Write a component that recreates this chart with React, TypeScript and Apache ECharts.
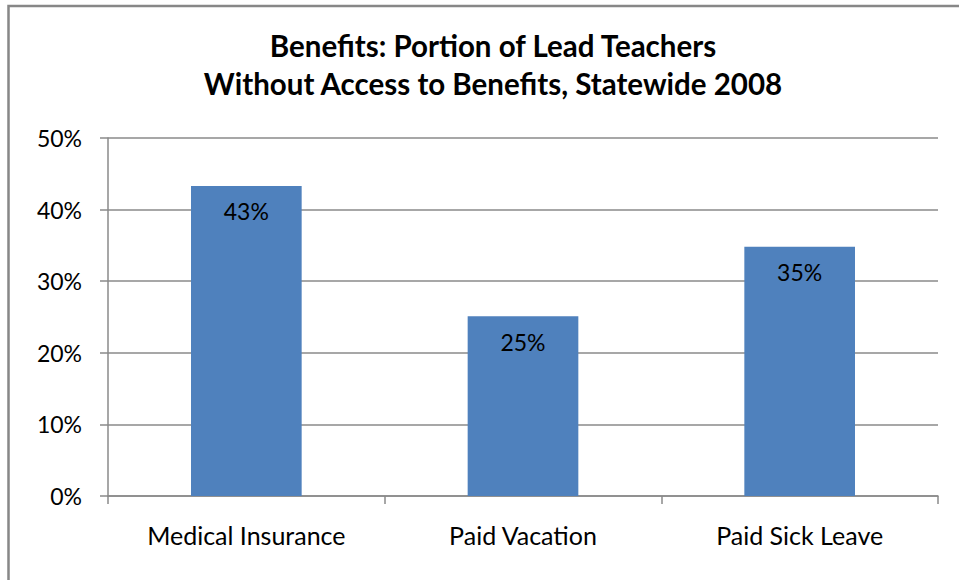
import React, { useEffect, useRef } from "react";
import * as echarts from "echarts";

const titleLines = ["Benefits: Portion of Lead Teachers", "Without Access to Benefits, Statewide 2008"];
const categories = ["Medical Insurance", "Paid Vacation", "Paid Sick Leave"];
const values = [43.3, 25.1, 34.8];
const yTicks = { min: 0, max: 50, interval: 10 };

const FONT = "Lato";

export default function App() {
  const ref = useRef<HTMLDivElement>(null);
  useEffect(() => {
    if (!ref.current) return;
    const chart = echarts.init(ref.current, undefined, { renderer: "svg" });
    chart.setOption({
      animation: false,
      backgroundColor: "#ffffff",
      title: {
        text: titleLines.join("\n"),
        left: 488,
        top: 21,
        textAlign: "center",
        textStyle: { fontFamily: FONT, fontWeight: "bold", fontSize: 29.5, lineHeight: 38, color: "#000" },
      },
      graphic: [
        {
          type: "rect",
          shape: { x: 8.5, y: 6, width: 1000, height: 700 },
          style: { fill: "none", stroke: "#878787", lineWidth: 2.5 },
          silent: true,
        },
      ],
      grid: { left: 108, right: 21, top: 138, bottom: 84 },
      xAxis: {
        type: "category",
        data: categories,
        axisLine: { lineStyle: { color: "#8a8a8a", width: 1.5 } },
        axisTick: { show: true, length: 8, lineStyle: { color: "#8a8a8a", width: 1.5 } },
        axisLabel: { fontFamily: FONT, fontSize: 25, color: "#000", margin: 26 },
      },
      yAxis: {
        type: "value",
        min: yTicks.min,
        max: yTicks.max,
        interval: yTicks.interval,
        axisLine: { show: true, lineStyle: { color: "#8a8a8a", width: 1.5 } },
        axisTick: { show: true, length: 8, lineStyle: { color: "#8a8a8a", width: 1.5 } },
        splitLine: { lineStyle: { color: "#8a8a8a", width: 1.5 } },
        axisLabel: { fontFamily: FONT, fontSize: 23, color: "#000", margin: 26, formatter: "{value}%" },
      },
      series: [
        {
          type: "bar",
          data: values,
          barWidth: "40%",
          itemStyle: { color: "#4F81BD" },
          label: {
            show: true,
            position: "insideTop",
            distance: 14,
            fontFamily: FONT,
            fontSize: 23,
            color: "#000",
            formatter: (p: any) => Math.round(p.value) + "%",
          },
        },
      ],
    });
    return () => chart.dispose();
  }, []);
  return <div ref={ref} style={{ position: "absolute", left: 0, top: 0, width: 959, height: 580 }} />;
}
